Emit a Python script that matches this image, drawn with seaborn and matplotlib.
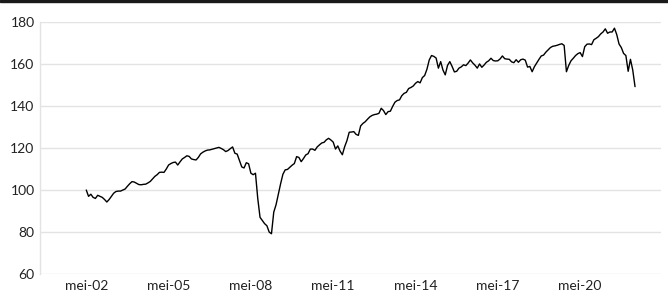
import numpy as np
import pandas as pd
import seaborn as sns
import matplotlib
matplotlib.use("Agg")
import matplotlib.pyplot as plt

# Monthly index values, May 2002 .. May 2022
values = [
    100, 97, 98, 96.5, 96, 97.5, 97, 96.5, 95.5, 94.3,
    95.5, 97, 98.5, 99.3, 99.5, 99.5, 100, 100.5, 101.8, 103,
    104, 103.8, 103.2, 102.6, 102.5, 102.7, 102.8, 103.4, 104.1, 105.3,
    106.5, 107.3, 108.4, 108.5, 108.4, 110, 111.9, 112.6, 113.1, 113.3,
    111.9, 113.4, 114.8, 115.5, 116.3, 116, 114.8, 114.5, 114.3, 115.5,
    117.2, 118, 118.6, 119, 119.1, 119.4, 119.7, 120, 120.3, 119.8,
    119.2, 118.3, 118.8, 119.7, 120.5, 117.5, 117.1, 114, 111, 110.5,
    113, 112.5, 108, 107.3, 108, 96, 87, 85.5, 84, 83,
    80, 79.2, 89.5, 93, 98, 103, 107.5, 109.6, 109.8, 110.8,
    111.8, 112.6, 115.9, 115.5, 113.5, 115, 116.7, 117.3, 119.5, 119.5,
    118.9, 120.5, 121.5, 122.4, 122.7, 123.9, 124.6, 123.8, 122.8, 119.5,
    121, 118.5, 116.8, 120.6, 123.5, 127.5, 127.6, 127.8, 126.5, 126,
    130.5, 131.7, 132.5, 133.7, 134.8, 135.5, 135.9, 136.1, 136.5, 138.9,
    137.8, 135.9, 137.3, 137.5, 139.8, 141.8, 142.6, 142.9, 144.9, 146,
    146.5, 148.3, 148.8, 149.5, 150.8, 151.6, 151, 153.5, 154.5, 157.5,
    161.9, 164, 163.6, 162.8, 158, 161.1, 157.1, 154.8, 159.3, 161.1,
    158.8, 156.2, 156.5, 158, 158.6, 159.6, 159.2, 160.4, 161.9, 160.5,
    159.4, 158, 160, 158.4, 159.5, 160.8, 161.5, 162.7, 161.6, 161.4,
    161.5, 162.4, 163.8, 162.5, 162.3, 162.2, 161, 160.6, 162, 160.8,
    162, 162.3, 161.8, 158.5, 158.8, 156.3, 158.7, 160.5, 162.2, 163.8,
    164.2, 165.6, 166.7, 167.8, 168.4, 168.6, 168.9, 169.3, 169.6, 168.8,
    156.3, 159.3, 161.5, 162.7, 164, 164.9, 165.4, 163.5, 168.2, 169.4,
    169.5, 169.2, 171.5, 172.2, 173, 174.3, 175.2, 176.7, 174.6, 175.2,
    175.2, 177, 174, 169.5, 167.8, 165, 164, 156.5, 162.2, 157.1,
    149.2,
]
tick_labels = ["mei-02", "mei-05", "mei-08", "mei-11", "mei-14", "mei-17", "mei-20"]
y_ticks = [60, 80, 100, 120, 140, 160, 180]

months = np.arange(len(values))
df = pd.DataFrame({"month": months, "value": values})

sns.set_theme(style="white")
plt.rcParams["font.family"] = ["Lato", "DejaVu Sans"]

fig = plt.figure(figsize=(6.68, 2.96), dpi=100)
ax = fig.add_axes([0.060, 0.074, 0.930, 0.852])

sns.lineplot(data=df, x="month", y="value", ax=ax, color="black", linewidth=1.0)

ax.set_ylim(60, 180)
ax.set_yticks(y_ticks)
ax.set_xlim(-20.2, 251.5)
ax.set_xticks(np.arange(len(tick_labels)) * 36)
ax.set_xticklabels(tick_labels)
ax.set_xlabel("")
ax.set_ylabel("")
ax.grid(axis="y", color="#e3e3e3", linewidth=1.0)
ax.set_axisbelow(True)
for s in ["top", "right", "bottom"]:
    ax.spines[s].set_visible(False)
ax.spines["left"].set_color("#e3e3e3")
ax.spines["left"].set_linewidth(1.0)
ax.tick_params(axis="both", length=0, labelsize=10, colors="#222222", pad=4)

# dark band along the top edge of the image
fig.patches.append(matplotlib.patches.Rectangle((0, 0.992), 1, 0.008, transform=fig.transFigure,
                                                color="#1a1a1a", zorder=10))

fig.savefig("out.png", dpi=100)
